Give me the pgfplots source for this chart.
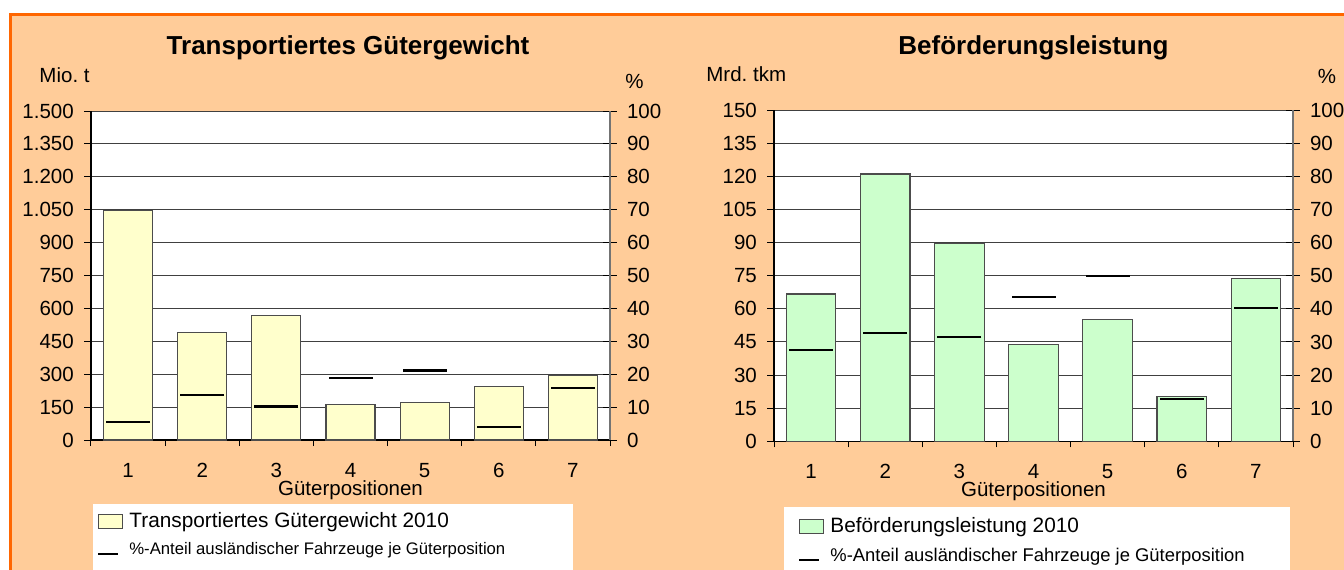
\documentclass[border=0pt]{standalone}
\usepackage{fontspec}
\setmainfont{Liberation Sans}
\usepackage{pgfplots}
\pgfplotsset{compat=1.18}
\definecolor{peach}{RGB}{255,204,153}
\definecolor{borderorange}{RGB}{255,102,0}
\definecolor{baryellow}{RGB}{255,255,204}
\definecolor{bargreen}{RGB}{204,255,204}
\newcommand{\lblfont}{\fontsize{10.25}{12}\selectfont}
\pgfplotsset{
  common/.style={
    scale only axis, width=259.5pt,
    xmin=0.5, xmax=7.5,
    /pgf/number format/assume math mode=true,
    tick label style={font=\lblfont},
    label style={font=\lblfont},
    tick style={black, line width=0.5pt},
  },
  baraxis/.style={
    common,
    ybar, bar width=24.5pt,
    axis x line*=bottom, axis y line*=left,
    axis line style={black, line width=0.6pt},
    axis background/.style={fill=white},
    ymajorgrids, grid style={black!75, line width=0.5pt},
    xtick={1,...,7},
    major x tick style={draw=none},
    minor xtick={0.5,1.5,...,7.5},
    minor x tick style={draw=black, line width=0.5pt},
    minor tick length=3pt,
    tick align=outside, major tick length=3.4pt,
    xticklabel style={anchor=base, yshift=-15.3pt},
    yticklabel style={anchor=east, inner sep=0pt, xshift=-5pt},
    xlabel={Güterpositionen},
    xlabel style={at={(axis description cs:0.5,0)}, anchor=base, yshift=-27.5pt, inner sep=0pt},
  },
  pctaxis/.style={
    common,
    ymin=0, ymax=100,
    axis x line=none,
    axis y line*=right,
    y axis line style={black!55, line width=0.8pt},
    ytick={0,10,...,100},
    tick align=center, major tick length=6.6pt,
    yticklabel style={anchor=west, inner sep=0pt, xshift=5pt},
    legend cell align=left,
    legend style={draw=none, fill=none, font=\fontsize{10.4}{12}\selectfont,
      anchor=north west, row sep=2pt, inner sep=1pt},
  },
  pctline/.style={only marks, mark=-, mark size=11pt,
    mark options={line width=1.1pt, black},
    legend image code/.code={\path[draw=none, fill=none] (0pt,-4pt) rectangle (13.5pt,4pt); \draw[line width=1pt, black] (0pt,-2pt) -- (10pt,-2pt);}},
  sqlegend/.style={legend image code/.code={\path[draw=none, fill=none] (0pt,-4pt) rectangle (13.5pt,4pt); \draw[##1] (0pt,-3.5pt) rectangle (12pt,3.5pt);}},
}
\begin{document}
\begin{tikzpicture}
\useasboundingbox (0,0) rectangle (672pt,284.5pt);
\fill[white] (0,0) rectangle (672pt,284.5pt);
\fill[peach] (5.25pt,-2pt) rectangle (674pt,277.15pt);
\draw[borderorange, line width=1.5pt] (5.25pt,-2pt) -- (5.25pt,277.15pt) -- (674pt,277.15pt);
\fill[white] (46.25pt,-3pt) rectangle (286.5pt,32.5pt);
\fill[white] (392pt,-3pt) rectangle (645pt,31pt);

\node[font=\bfseries\fontsize{13}{15}\selectfont, anchor=base] at (174pt,257pt) {Transportiertes Gütergewicht};
\node[font=\bfseries\fontsize{13}{15}\selectfont, anchor=base] at (516.75pt,257pt) {Beförderungsleistung};
\node[font=\lblfont, anchor=base east, inner sep=0pt] at (45pt,243.5pt) {Mio.\ t};
\node[font=\lblfont, anchor=base west, inner sep=0pt] at (312.5pt,240.4pt) {\%};
\node[font=\lblfont, anchor=base west, inner sep=0pt] at (353pt,243.6pt) {Mrd.\ tkm};
\node[font=\lblfont, anchor=base west, inner sep=0pt] at (658.7pt,242.8pt) {\%};

% ---------- left chart ----------
\begin{axis}[baraxis, at={(45.5pt,64.5pt)}, anchor=south west, height=164.5pt,
  ymin=0, ymax=1500, ytick={0,150,...,1500},
  yticklabels={0,150,300,450,600,750,900,{1.050},{1.200},{1.350},{1.500}}]
\addplot[fill=baryellow, draw=black!70, line width=0.6pt] coordinates
  {(1,1045) (2,489) (3,567) (4,161) (5,172) (6,243) (7,293)};
\end{axis}
\begin{axis}[pctaxis, at={(45.5pt,64.5pt)}, anchor=south west, height=164.5pt,
  legend style={at={(rel axis cs:0,0)}, xshift=2pt, yshift=-33pt}]
\addlegendimage{fill=baryellow, draw=black!70, line width=0.6pt, sqlegend}
\addlegendentry{Transportiertes Gütergewicht 2010}
\addplot[pctline] coordinates
  {(1,5.4) (2,13.7) (3,10.2) (4,18.8) (5,21.1) (6,4.0) (7,15.9)};
\addlegendentry{\fontsize{8.35}{10}\selectfont\%-Anteil ausländischer Fahrzeuge je Güterposition}
\end{axis}

% ---------- right chart ----------
\begin{axis}[baraxis, at={(387pt,63.8pt)}, anchor=south west, height=165.7pt,
  ymin=0, ymax=150, ytick={0,15,...,150}, bar width=24.8pt]
\addplot[fill=bargreen, draw=black!70, line width=0.6pt] coordinates
  {(1,66.7) (2,121) (3,89.6) (4,43.8) (5,55.1) (6,20.2) (7,73.9)};
\end{axis}
\begin{axis}[pctaxis, at={(387pt,63.8pt)}, anchor=south west, height=165.7pt,
  legend style={at={(rel axis cs:0,0)}, xshift=11pt, yshift=-35pt}]
\addlegendimage{fill=bargreen, draw=black!70, line width=0.6pt, sqlegend}
\addlegendentry{Beförderungsleistung 2010}
\addplot[pctline] coordinates
  {(1,27.6) (2,32.8) (3,31.6) (4,43.5) (5,49.8) (6,12.7) (7,40.2)};
\addlegendentry{\fontsize{9.2}{11}\selectfont\%-Anteil ausländischer Fahrzeuge je Güterposition}
\end{axis}
\end{tikzpicture}
\end{document}
